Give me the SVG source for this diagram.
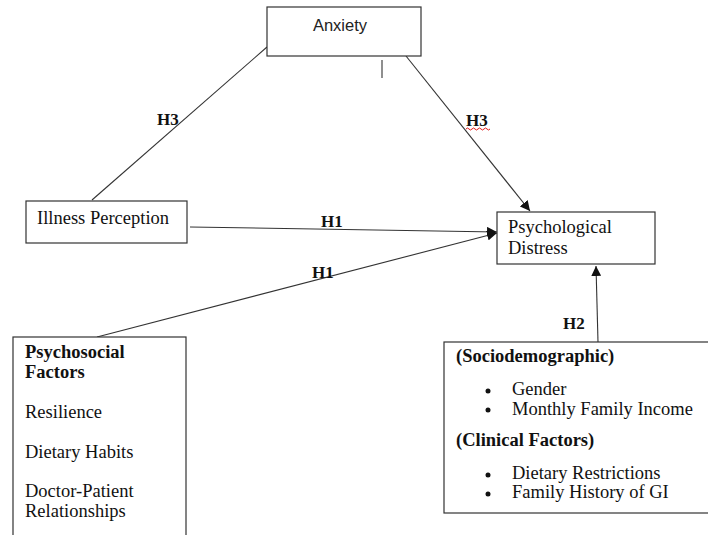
<svg xmlns="http://www.w3.org/2000/svg" width="708" height="535" viewBox="0 0 708 535">
<style>
.box{fill:#fff;stroke:#333;stroke-width:1.2}
.t{font-family:"Liberation Serif","Times New Roman",serif;font-size:18.5px;fill:#111}
.b{font-weight:bold}
.s{font-family:"Liberation Sans",Arial,sans-serif;font-size:16.5px;fill:#222}
.lbl{font-family:"Liberation Serif","Times New Roman",serif;font-size:17px;font-weight:bold;fill:#111}
.ln{stroke:#333;stroke-width:1.1;fill:none}
</style>
<defs>
<marker id="ah" viewBox="0 0 10 10" refX="10" refY="5" markerWidth="10" markerHeight="10" markerUnits="userSpaceOnUse" orient="auto">
<path d="M0,0 L10,5 L0,10 z" fill="#111"/>
</marker>
</defs>
<rect width="708" height="535" fill="#fff"/>
<g id="connectors">
<line class="ln" x1="92" y1="200" x2="267" y2="47"/>
<line class="ln" x1="406" y1="56" x2="530" y2="211" marker-end="url(#ah)"/>
<line class="ln" x1="190" y1="227" x2="497" y2="232" marker-end="url(#ah)"/>
<line class="ln" x1="97" y1="337" x2="497" y2="233" marker-end="url(#ah)"/>
<line class="ln" x1="598" y1="342" x2="596" y2="266" marker-end="url(#ah)"/>
<line class="ln" x1="382" y1="60" x2="382" y2="78"/>
<text class="lbl" x="157" y="125">H3</text>
<text class="lbl" x="466" y="126">H3</text>
<path d="M466,129 q1.5,-2 3,0 t3,0 t3,0 t3,0 t3,0 t3,0 t3,0 t3,0" fill="none" stroke="#d00" stroke-width="0.9"/>
<text class="lbl" x="321" y="227">H1</text>
<text class="lbl" x="312" y="278">H1</text>
<text class="lbl" x="563" y="329">H2</text>
</g>
<g id="anxiety">
<rect class="box" x="267" y="7" width="154" height="49"/>
<text class="s" x="340" y="31" text-anchor="middle">Anxiety</text>
</g>
<g id="illness-perception">
<rect class="box" x="26" y="201" width="161" height="42"/>
<text class="t" x="37" y="224">Illness Perception</text>
</g>
<g id="psychological-distress">
<rect class="box" x="497" y="212" width="158" height="52"/>
<text class="t" x="508" y="233">Psychological</text>
<text class="t" x="508" y="254">Distress</text>
</g>
<g id="psychosocial-factors">
<rect class="box" x="13" y="337" width="173" height="210"/>
<text class="t b" x="25" y="358">Psychosocial</text>
<text class="t b" x="25" y="378">Factors</text>
<text class="t" x="25" y="418">Resilience</text>
<text class="t" x="25" y="458">Dietary Habits</text>
<text class="t" x="25" y="497">Doctor-Patient</text>
<text class="t" x="25" y="517">Relationships</text>
</g>
<g id="sociodemographic-clinical">
<rect class="box" x="444" y="342" width="270" height="171"/>
<text class="t b" x="456" y="362">(Sociodemographic)</text>
<circle cx="488" cy="391" r="2.5" fill="#111"/>
<text class="t" x="512" y="395">Gender</text>
<circle cx="488" cy="410" r="2.5" fill="#111"/>
<text class="t" x="512" y="415">Monthly Family Income</text>
<text class="t b" x="456" y="446">(Clinical Factors)</text>
<circle cx="488" cy="475" r="2.5" fill="#111"/>
<text class="t" x="512" y="479">Dietary Restrictions</text>
<circle cx="488" cy="494" r="2.5" fill="#111"/>
<text class="t" x="512" y="498">Family History of GI</text>
</g>
</svg>
